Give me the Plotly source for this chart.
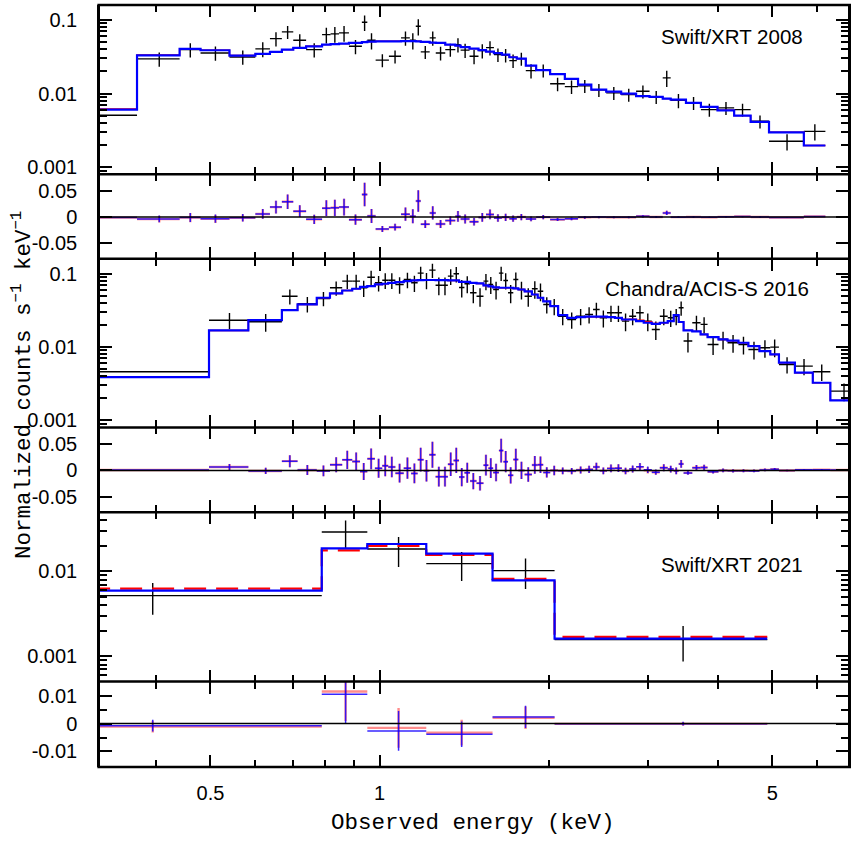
import numpy as np
import plotly.graph_objects as go

# ---------------- Swift/XRT 2008 ----------------
xrt08_edges = [0.20, 0.370, 0.4406, 0.480, 0.5405, 0.601, 0.638, 0.670, 0.702, 0.740,
               0.790, 0.818, 0.847, 0.882, 0.930, 0.951, 0.984, 1.039, 1.092, 1.132,
               1.160, 1.184, 1.228, 1.259, 1.309, 1.364, 1.394, 1.446, 1.500, 1.547,
               1.598, 1.651, 1.702, 1.755, 1.821, 1.900, 2.012, 2.137, 2.256, 2.382,
               2.532, 2.692, 2.862, 3.024, 3.192, 3.298, 3.511, 3.733, 3.996, 4.278,
               4.577, 4.935, 5.692, 6.218]
xrt08_data = [0.00507, 0.0296, 0.0396, 0.0357, 0.0315, 0.0405, 0.0559, 0.0689, 0.0530, 0.0396,
              0.0633, 0.0647, 0.0668, 0.0439, 0.0931, 0.0530, 0.0285, 0.0321, 0.0571, 0.0530,
              0.0821, 0.0369, 0.0571, 0.0357, 0.0396, 0.0463, 0.0390, 0.0321, 0.0384, 0.0422,
              0.0339, 0.0334, 0.0281, 0.0299, 0.0205, 0.0207, 0.0136, 0.01245, 0.01273, 0.01122,
              0.01022, 0.00969, 0.01074, 0.00902, 0.01634, 0.00811, 0.00747, 0.00606, 0.00639, 0.00606,
              0.0042, 0.00225, 0.00307]
xrt08_relerr = [0.05, 0.22, 0.22, 0.22, 0.22, 0.23, 0.22, 0.20, 0.21, 0.22,
                0.24, 0.24, 0.24, 0.22, 0.24, 0.25, 0.20, 0.20, 0.22, 0.25,
                0.25, 0.20, 0.22, 0.21, 0.20, 0.22, 0.22, 0.22, 0.22, 0.22,
                0.21, 0.21, 0.21, 0.20, 0.22, 0.20, 0.21, 0.21, 0.20, 0.20,
                0.20, 0.20, 0.20, 0.20, 0.25, 0.22, 0.20, 0.20, 0.20, 0.20,
                0.20, 0.25, 0.25]
xrt08_model_blue = [0.00606, 0.0331, 0.0405, 0.0388, 0.0328, 0.0346, 0.0369, 0.0396, 0.0418, 0.0439,
                    0.0463, 0.0471, 0.0478, 0.0489, 0.0501, 0.0509, 0.0514, 0.0514, 0.0516, 0.0516,
                    0.0514, 0.0504, 0.0493, 0.0489, 0.0463, 0.0449, 0.0428, 0.0409, 0.0390, 0.0372,
                    0.0355, 0.0339, 0.0312, 0.0299, 0.0240, 0.0209, 0.0184, 0.01584, 0.01326, 0.01133,
                    0.01065, 0.0100, 0.00925, 0.00902, 0.00855, 0.00829, 0.00747, 0.0066, 0.00593, 0.00502,
                    0.00412, 0.00298, 0.00197]
xrt08_model_red = [0.0062, 0.0335, 0.0407, 0.0390, 0.0330, 0.0346, 0.0369, 0.0396, 0.0418, 0.0439,
                   0.0463, 0.0471, 0.0478, 0.0489, 0.0501, 0.0509, 0.0514, 0.0514, 0.0516, 0.0516,
                   0.0514, 0.0504, 0.0493, 0.0489, 0.0463, 0.0449, 0.0428, 0.0409, 0.0390, 0.0372,
                   0.0355, 0.0339, 0.0312, 0.0299, 0.0240, 0.0209, 0.0184, 0.01584, 0.01326, 0.01133,
                   0.01065, 0.0100, 0.00925, 0.00902, 0.00855, 0.00829, 0.00747, 0.0066, 0.00593, 0.00502,
                   0.00412, 0.00298, 0.00197]

# ---------------- Chandra/ACIS-S 2016 ----------------
acis_edges = [0.1, 0.497, 0.584, 0.670, 0.7145, 0.773, 0.816, 0.858, 0.894, 0.923,
              0.951, 0.981, 1.011, 1.036, 1.067, 1.104, 1.138, 1.169, 1.198, 1.226,
              1.258, 1.292, 1.323, 1.354, 1.385, 1.416, 1.449, 1.488, 1.531, 1.562,
              1.593, 1.631, 1.661, 1.693, 1.730, 1.766, 1.812, 1.867, 1.912, 1.956,
              2.013, 2.079, 2.158, 2.238, 2.322, 2.399, 2.465, 2.540, 2.624, 2.700,
              2.782, 2.862, 2.953, 3.052, 3.154, 3.258, 3.339, 3.408, 3.477, 3.603,
              3.728, 3.836, 4.012, 4.163, 4.354, 4.535, 4.745, 4.961, 5.140, 5.488,
              5.905, 6.346, 7.077]
acis_data = [0.00462, 0.0233, 0.0222, 0.0495, 0.0390, 0.0461, 0.0645, 0.0793, 0.0793, 0.0645,
             0.0899, 0.0754, 0.0818, 0.0818, 0.0715, 0.0836, 0.0754, 0.1022, 0.0818, 0.1120,
             0.0699, 0.0699, 0.0928, 0.1000, 0.0650, 0.0733, 0.0551, 0.0495, 0.0793, 0.0715,
             0.0611, 0.1022, 0.0811, 0.0551, 0.0836, 0.0611, 0.0495, 0.0625, 0.0579, 0.0382,
             0.0362, 0.0264, 0.0238, 0.0264, 0.0279, 0.0326, 0.0251, 0.0294, 0.0294, 0.0226,
             0.0264, 0.0294, 0.0226, 0.0174, 0.0264, 0.0251, 0.0264, 0.0344, 0.0121, 0.0215,
             0.0204, 0.01088, 0.01273, 0.01148, 0.01088, 0.0093, 0.0098, 0.0100, 0.00581, 0.00551,
             0.00462, 0.00251]
acis_relerr = [0.04, 0.25, 0.27, 0.23, 0.24, 0.22, 0.22, 0.22, 0.22, 0.25,
               0.22, 0.24, 0.24, 0.24, 0.25, 0.24, 0.25, 0.22, 0.25, 0.22,
               0.27, 0.27, 0.24, 0.24, 0.27, 0.26, 0.28, 0.28, 0.25, 0.26,
               0.27, 0.22, 0.25, 0.28, 0.25, 0.27, 0.28, 0.27, 0.27, 0.25,
               0.25, 0.25, 0.25, 0.25, 0.25, 0.24, 0.26, 0.25, 0.25, 0.27,
               0.25, 0.25, 0.27, 0.28, 0.25, 0.25, 0.25, 0.22, 0.30, 0.25,
               0.25, 0.28, 0.27, 0.27, 0.27, 0.27, 0.27, 0.27, 0.25, 0.25,
               0.25, 0.27]
acis_model_blue = [0.0039, 0.01688, 0.0233, 0.0319, 0.0382, 0.0471, 0.0539, 0.0592, 0.0625, 0.0665,
                   0.0678, 0.0715, 0.0731, 0.0754, 0.0768, 0.0793, 0.0811, 0.0818, 0.0823, 0.0823,
                   0.0818, 0.0818, 0.0811, 0.0811, 0.0778, 0.0778, 0.0754, 0.0738, 0.0693, 0.0672,
                   0.0651, 0.0645, 0.0645, 0.0645, 0.0631, 0.0611, 0.0574, 0.0522, 0.0471, 0.0420,
                   0.0362, 0.0273, 0.0251, 0.0256, 0.0260, 0.0260, 0.0260, 0.0256, 0.0251, 0.0238,
                   0.0238, 0.0226, 0.0215, 0.0207, 0.0215, 0.0226, 0.0273, 0.0220, 0.0169, 0.0164,
                   0.0149, 0.01368, 0.01273, 0.01223, 0.01148, 0.0103, 0.00882, 0.00795, 0.00613, 0.00448,
                   0.00327, 0.00188]
acis_model_red = [0.0039, 0.01688, 0.0233, 0.0319, 0.0382, 0.0471, 0.0539, 0.0592, 0.0625, 0.0665,
                  0.0678, 0.0715, 0.0731, 0.0754, 0.0768, 0.0793, 0.0811, 0.0818, 0.0823, 0.0823,
                  0.0818, 0.0818, 0.0811, 0.0811, 0.0778, 0.0778, 0.0754, 0.0738, 0.0693, 0.0672,
                  0.0651, 0.0645, 0.0645, 0.0645, 0.0631, 0.0611, 0.0574, 0.0522, 0.0471, 0.0420,
                  0.0362, 0.0273, 0.0251, 0.0256, 0.0260, 0.0260, 0.0260, 0.0256, 0.0251, 0.0238,
                  0.0240, 0.0232, 0.0222, 0.0210, 0.0215, 0.0226, 0.0273, 0.0220, 0.0169, 0.0164,
                  0.0149, 0.01368, 0.01273, 0.01223, 0.01148, 0.0103, 0.00882, 0.00795, 0.00613, 0.00448,
                  0.00327, 0.00188]

# ---------------- Swift/XRT 2021 ----------------
xrt21_edges = [0.01, 0.789, 0.951, 1.211, 1.589, 2.049, 4.90]
xrt21_center = [0.3946, 0.870, 1.081, 1.400, 1.819, 3.47]
xrt21_data = [0.00518, 0.0291, 0.01834, 0.01232, 0.0102, 0.00157]
xrt21_err = [0.0021, 0.0105, 0.0071, 0.0046, 0.0040, 0.0007]
xrt21_model_blue = [0.00593, 0.01865, 0.0210, 0.01615, 0.00783, 0.001615]
xrt21_model_red = [0.00626, 0.01767, 0.0199, 0.0156, 0.00814, 0.00169]

# ---------------- ticks / labels ----------------
x_major = [0.5, 1, 5]
x_major_text = ["0.5", "1", "5"]
x_minor = [0.4, 0.6, 0.7, 0.8, 0.9, 2, 3, 4, 6]
logA_major = [0.001, 0.01, 0.1]
logA_text = ["0.001", "0.01", "0.1"]
logA_minor = [0.0009, 0.002, 0.003, 0.004, 0.005, 0.006, 0.007, 0.008, 0.009,
              0.02, 0.03, 0.04, 0.05, 0.06, 0.07, 0.08, 0.09]
logB_major = [0.001, 0.01]
logB_text = ["0.001", "0.01"]
logB_minor = [0.0006, 0.0007, 0.0008, 0.0009, 0.002, 0.003, 0.004, 0.005, 0.006,
              0.007, 0.008, 0.009, 0.02, 0.03, 0.04]
resA_major = [-0.05, 0, 0.05]
resA_text = ["-0.05", "0", "0.05"]
resB_major = [-0.01, 0, 0.01]
resB_text = ["-0.01", "0", "0.01"]
resB_minor = [-0.005, 0.005]
panel_labels = ["Swift/XRT 2008", "Chandra/ACIS-S 2016", "Swift/XRT 2021"]
x_title = "Observed energy (keV)"
y_title = "Normalized counts s<sup>\u22121</sup> keV<sup>\u22121</sup>"

BLUE = "#0000ff"
RED = "#ff0000"
TICKFONT = dict(family="Liberation Sans, Arial, sans-serif", size=20, color="black")
MONO = dict(family="Liberation Mono, Courier New, monospace", size=22.5, color="black")

fig = go.Figure()


def cross(xa, ya, center, lo, hi, y, err, color, thick):
    center = np.asarray(center, float)
    return go.Scatter(
        x=center, y=y, mode="markers", xaxis=xa, yaxis=ya, hoverinfo="skip",
        marker=dict(size=1, color=color),
        error_x=dict(type="data", symmetric=False, array=np.asarray(hi) - center,
                     arrayminus=center - np.asarray(lo), width=0, thickness=thick, color=color),
        error_y=dict(type="data", symmetric=True, array=err, width=0, thickness=thick, color=color),
    )


def step(xa, ya, edges, vals, color, width, dash="solid"):
    return go.Scatter(x=list(edges), y=list(vals) + [vals[-1]], mode="lines", line_shape="hv",
                      line=dict(color=color, width=width, dash=dash), xaxis=xa, yaxis=ya,
                      hoverinfo="skip")


def add_panel(spec_ax, res_ax, edges, center, data, err, mblue, mred, red_dash="solid", red_w=1.4):
    edges = np.asarray(edges, float)
    lo, hi = edges[:-1], edges[1:]
    data = np.asarray(data, float)
    err = np.asarray(err, float)
    xs, ys = spec_ax
    xr, yr = res_ax
    fig.add_trace(cross(xs, ys, center, lo, hi, data, err, "black", 1.4))
    fig.add_trace(step(xs, ys, edges, mred, RED, red_w, red_dash))
    fig.add_trace(step(xs, ys, edges, mblue, BLUE, 2.2))
    res_red = data - np.asarray(mred)
    res_blue = data - np.asarray(mblue)
    fig.add_trace(cross(xr, yr, center, lo, hi, res_red, err, "rgba(255,0,0,0.45)", 2.4))
    fig.add_trace(cross(xr, yr, center, lo, hi, res_blue, err, "rgba(20,0,255,0.85)", 1.5))


e08 = np.asarray(xrt08_edges)
c08 = (e08[:-1] + e08[1:]) / 2
add_panel(("x", "y"), ("x2", "y2"), xrt08_edges, c08, xrt08_data,
          np.asarray(xrt08_data) * np.asarray(xrt08_relerr), xrt08_model_blue, xrt08_model_red)
eac = np.asarray(acis_edges)
cac = (eac[:-1] + eac[1:]) / 2
add_panel(("x3", "y3"), ("x4", "y4"), acis_edges, cac, acis_data,
          np.asarray(acis_data) * np.asarray(acis_relerr), acis_model_blue, acis_model_red)
add_panel(("x5", "y5"), ("x6", "y6"), xrt21_edges, xrt21_center, xrt21_data,
          xrt21_err, xrt21_model_blue, xrt21_model_red, red_dash="22px,10px", red_w=2.2)

domains = [(0.7780, 1.0), (0.6669, 0.7780), (0.4456, 0.6669),
           (0.3344, 0.4456), (0.1121, 0.3344), (0.0, 0.1121)]
ycfg = [
    dict(type="log", range=[-3.095, -0.796], tickvals=logA_major, ticktext=logA_text, minor=logA_minor),
    dict(type="linear", range=[-0.0795, 0.0817], tickvals=resA_major, ticktext=resA_text, minor=[]),
    dict(type="log", range=[-3.095, -0.796], tickvals=logA_major, ticktext=logA_text, minor=logA_minor),
    dict(type="linear", range=[-0.0795, 0.0817], tickvals=resA_major, ticktext=resA_text, minor=[]),
    dict(type="log", range=[-3.2976, -1.3035], tickvals=logB_major, ticktext=logB_text, minor=logB_minor),
    dict(type="linear", range=[-0.01554, 0.0150], tickvals=resB_major, ticktext=resB_text, minor=resB_minor),
]

layout = dict(width=851, height=844, margin=dict(l=100, r=0, t=5, b=76.5),
              paper_bgcolor="white", plot_bgcolor="white", showlegend=False)
for i in range(6):
    k = "" if i == 0 else str(i + 1)
    xa = dict(type="log", range=[-0.4977, 0.8339], domain=[0, 1], anchor="y" + k,
              tickmode="array", tickvals=x_major, ticktext=x_major_text,
              ticks="inside", ticklen=12, tickwidth=1.8, tickcolor="black",
              minor=dict(tickvals=x_minor, ticks="inside", ticklen=7, tickwidth=1.8, tickcolor="black"),
              mirror="ticks", showline=False, showgrid=False, zeroline=False,
              showticklabels=(i == 5), tickfont=TICKFONT, ticklabelstandoff=12)
    if i > 0:
        xa["matches"] = "x"
    c = ycfg[i]
    ya = dict(type=c["type"], range=c["range"], domain=list(domains[i]), anchor="x" + k,
              tickmode="array", tickvals=c["tickvals"], ticktext=c["ticktext"],
              ticks="inside", ticklen=12, tickwidth=1.8, tickcolor="black",
              minor=dict(tickvals=c["minor"], ticks="inside", ticklen=7, tickwidth=1.8, tickcolor="black"),
              mirror="ticks", showline=True, linewidth=2.5, linecolor="black",
              showgrid=False, zeroline=False, tickfont=TICKFONT, ticklabelstandoff=16)
    layout["xaxis" + k] = xa
    layout["yaxis" + k] = ya

shapes = []
for yb in [1.0, 0.7780, 0.6669, 0.4456, 0.3344, 0.1121, 0.0]:
    shapes.append(dict(type="line", xref="paper", yref="paper", x0=-0.0035, x1=1.01, y0=yb, y1=yb,
                       line=dict(color="black", width=2.5), layer="above"))
for yref in ["y2", "y4", "y6"]:
    shapes.append(dict(type="line", xref="paper", yref=yref, x0=0, x1=1, y0=0, y1=0,
                       line=dict(color="black", width=1.5), layer="above"))
layout["shapes"] = shapes

LABFONT = dict(family="Liberation Sans, Arial, sans-serif", size=20.5, color="black")
layout["annotations"] = [
    dict(text=panel_labels[0], xref="paper", yref="paper", x=0.8455, y=0.9593,
         xanchor="center", yanchor="middle", showarrow=False, font=LABFONT),
    dict(text=panel_labels[1], xref="paper", yref="paper", x=0.811, y=0.6275,
         xanchor="center", yanchor="middle", showarrow=False, font=LABFONT),
    dict(text=panel_labels[2], xref="paper", yref="paper", x=0.8455, y=0.2656,
         xanchor="center", yanchor="middle", showarrow=False, font=LABFONT),
    dict(text=x_title, xref="paper", yref="paper", x=0.4993, y=-0.0741,
         xanchor="center", yanchor="middle", showarrow=False, font=MONO),
    dict(text=y_title, xref="paper", yref="paper", x=-0.1039, y=0.5016, textangle=-90,
         xanchor="center", yanchor="middle", showarrow=False, font=MONO),
]

fig.update_layout(**layout)
fig.write_html("out.html")
